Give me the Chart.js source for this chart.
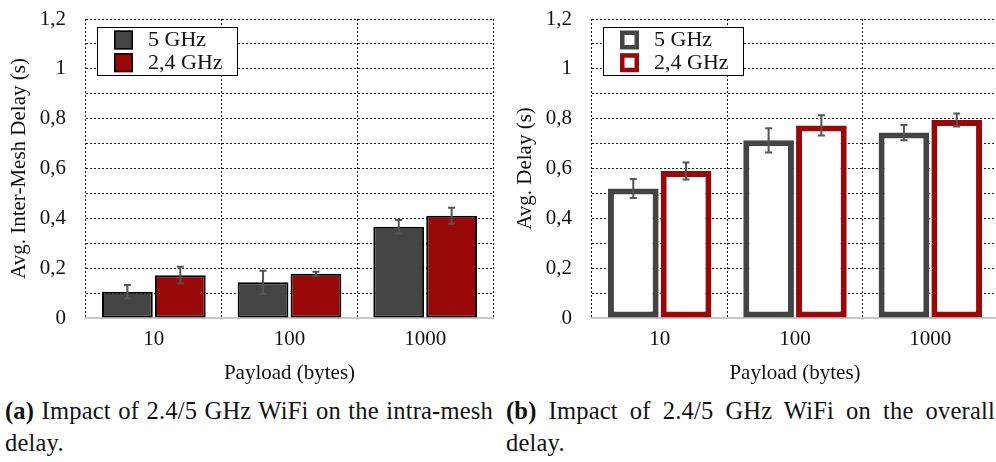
<!DOCTYPE html>
<html>
<head>
<meta charset="utf-8">
<script src="https://cdn.jsdelivr.net/npm/chart.js@4.4.1/dist/chart.umd.min.js"></script>
<style>
  html, body { margin: 0; padding: 0; background: #fff; }
  body { width: 996px; height: 462px; overflow: hidden; position: relative; }
  .plot { position: absolute; top: 0; }
  .cap {
    position: absolute;
    font-family: 'Liberation Serif', serif;
    font-size: 24.5px;
    letter-spacing: 0.2px;
    line-height: 32px;
    color: #111;
  }
  .cap .l1 { text-align: justify; text-align-last: justify; }
  .cap b { font-weight: bold; }
</style>
</head>
<body>
<div class="plot" style="left:0px"><canvas id="meshChart" width="498" height="392"></canvas></div>
<div class="plot" style="left:506px"><canvas id="totalChart" width="497" height="392"></canvas></div>

<div class="cap" style="left:5px; top:395px; width:488px">
  <div class="l1"><b>(a)</b> Impact of 2.4/5 GHz WiFi on the intra-mesh</div>
  <div>delay.</div>
</div>
<div class="cap" style="left:506px; top:395px; width:489px">
  <div class="l1"><b>(b)</b> Impact of 2.4/5 GHz WiFi on the overall</div>
  <div>delay.</div>
</div>

<script>
const payloads = ['10', '100', '1000'];
const seriesNames = ['5 GHz', '2,4 GHz'];
const seriesColors = ['#444444', '#990808'];

// intra-mesh delay (s)
const meshDelay5 = [0.105, 0.143, 0.366];
const meshErr5 = [0.027, 0.047, 0.027];
const meshDelay24 = [0.172, 0.178, 0.410];
const meshErr24 = [0.034, 0.008, 0.032];

// overall delay (s)
const totalDelay5 = [0.520, 0.713, 0.744];
const totalErr5 = [0.038, 0.049, 0.031];
const totalDelay24 = [0.590, 0.773, 0.795];
const totalErr24 = [0.034, 0.041, 0.026];

const yMin = 0, yMax = 1.2, yStep = 0.1;

Chart.defaults.font.family = "'Liberation Serif', serif";
Chart.defaults.color = '#111';

function fmtTick(v) {
  const r = Math.round(v * 10);
  if (r % 2) return '';
  if (r % 10 === 0) return String(r / 10);
  return (r / 10).toFixed(1).replace('.', ',');
}

// whiskers with caps on top of each bar
const errorBars = {
  id: 'errorBars',
  afterDatasetsDraw(chart) {
    const ctx = chart.ctx;
    const y = chart.scales.y;
    chart.data.datasets.forEach((ds, i) => {
      const meta = chart.getDatasetMeta(i);
      meta.data.forEach((bar, j) => {
        const v = ds.data[j], e = ds.errors[j];
        const top = y.getPixelForValue(v + e);
        const bot = y.getPixelForValue(v - e);
        ctx.save();
        ctx.strokeStyle = '#555';
        ctx.lineWidth = 2;
        ctx.beginPath();
        ctx.moveTo(bar.x, top);
        ctx.lineTo(bar.x, bot);
        ctx.moveTo(bar.x - 3.5, top);
        ctx.lineTo(bar.x + 3.5, top);
        ctx.moveTo(bar.x - 3.5, bot);
        ctx.lineTo(bar.x + 3.5, bot);
        ctx.stroke();
        ctx.restore();
      });
    });
  }
};

// framed legend inside the plot area, top left
const boxLegend = {
  id: 'boxLegend',
  afterDraw(chart, args, opts) {
    const ctx = chart.ctx;
    const bx = chart.chartArea.left + 11, by = chart.chartArea.top + 8;
    const bw = 141, bh = 49;
    ctx.save();
    ctx.fillStyle = '#fff';
    ctx.fillRect(bx, by, bw, bh);
    ctx.strokeStyle = '#000';
    ctx.lineWidth = 1;
    ctx.strokeRect(bx + 0.5, by + 0.5, bw - 1, bh - 1);
    chart.data.datasets.forEach((ds, i) => {
      const sx = bx + 17, sy = by + 3.5 + i * 22.7;
      if (opts.hollow) {
        ctx.strokeStyle = ds.borderColor;
        ctx.lineWidth = 4.5;
        ctx.strokeRect(sx + 2.25, sy + 2.25, 19 - 4.5, 19 - 4.5);
      } else {
        ctx.fillStyle = ds.backgroundColor;
        ctx.fillRect(sx, sy, 19, 19);
        ctx.strokeStyle = '#000';
        ctx.lineWidth = 1.5;
        ctx.strokeRect(sx + 0.75, sy + 0.75, 17.5, 17.5);
      }
      ctx.fillStyle = '#111';
      ctx.font = "22px 'Liberation Serif', serif";
      ctx.textBaseline = 'middle';
      ctx.fillText(ds.label, bx + 51, sy + 10);
    });
    ctx.restore();
  }
};

function makeChart(id, yTitle, d5, e5, d24, e24, hollow) {
  const sets = [[d5, e5], [d24, e24]].map(([d, e], i) => ({
    label: seriesNames[i],
    data: d,
    errors: e,
    backgroundColor: hollow ? '#fff' : seriesColors[i],
    borderColor: hollow ? seriesColors[i] : '#000',
    borderWidth: hollow ? 6 : 2,
    borderSkipped: false,
    categoryPercentage: 0.78,
    barPercentage: 0.96
  }));

  return new Chart(document.getElementById(id), {
    type: 'bar',
    data: { labels: payloads, datasets: sets },
    plugins: [errorBars, boxLegend],
    options: {
      responsive: false,
      animation: false,
      layout: { padding: { left: 0, right: 5, top: 19, bottom: 0 } },
      plugins: {
        legend: { display: false },
        tooltip: { enabled: false },
        boxLegend: { hollow: hollow }
      },
      scales: {
        x: {
          grid: { color: '#222', lineWidth: 1, drawTicks: false, offset: true },
          border: { color: '#c8c8c8', width: 2, dash: [2, 2] },
          ticks: { padding: 9, font: { size: 21 } },
          title: {
            display: true, text: 'Payload (bytes)',
            font: { size: 21 },
            padding: { top: 0, bottom: 6 }
          },
          afterFit(s) { s.height = 74; }
        },
        y: {
          min: yMin, max: yMax,
          grid: { color: '#222', lineWidth: 1, drawTicks: false },
          border: { display: false, dash: [2, 2] },
          ticks: {
            stepSize: yStep, autoSkip: false, padding: 20,
            font: { size: 21 },
            callback: fmtTick
          },
          title: {
            display: true, text: yTitle,
            font: { size: 21 },
            padding: { top: 7, bottom: 0 }
          },
          afterFit(s) {
            s.width = 86;
            // let the layout padding alone decide where the plot starts
            s.paddingTop = 0;
            s.paddingBottom = 0;
          }
        }
      }
    }
  });
}

makeChart('meshChart', 'Avg. Inter-Mesh Delay (s)', meshDelay5, meshErr5, meshDelay24, meshErr24, false);
makeChart('totalChart', 'Avg. Delay (s)', totalDelay5, totalErr5, totalDelay24, totalErr24, true);
</script>
</body>
</html>
